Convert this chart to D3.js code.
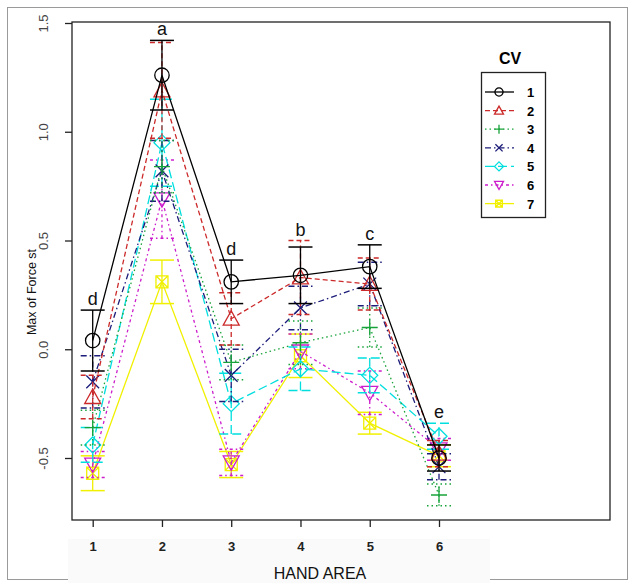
<!DOCTYPE html>
<html>
<head>
<meta charset="utf-8">
<script src="https://cdn.jsdelivr.net/npm/d3@7"></script>
<style>
  body { margin: 0; background: #fff; }
  svg { font-family: Arial, "Liberation Sans", sans-serif; }
</style>
</head>
<body>
<svg id="chart" width="634" height="585"></svg>
<script>
const areas = [1, 2, 3, 4, 5, 6];
const cvNames = ["1", "2", "3", "4", "5", "6", "7"];
const yTicks = [-0.5, 0.0, 0.5, 1.0, 1.5];

// means per CV, one value per hand area
const cv1 = [0.04, 1.26, 0.31, 0.34, 0.38, -0.50];
const cv2 = [-0.22, 1.19, 0.14, 0.33, 0.30, -0.48];
const cv3 = [-0.36, 0.84, -0.06, 0.03, 0.10, -0.67];
const cv4 = [-0.15, 0.82, -0.12, 0.19, 0.30, -0.54];
const cv5 = [-0.44, 0.95, -0.25, -0.09, -0.12, -0.40];
const cv6 = [-0.53, 0.69, -0.52, -0.01, -0.20, -0.46];
const cv7 = [-0.57, 0.31, -0.53, -0.03, -0.34, -0.49];

// half-length of the error bars
const err1 = [0.14, 0.16, 0.10, 0.13, 0.10, 0.06];
const err2 = [0.10, 0.22, 0.12, 0.17, 0.12, 0.06];
const err3 = [0.08, 0.12, 0.08, 0.10, 0.09, 0.05];
const err4 = [0.12, 0.14, 0.12, 0.10, 0.10, 0.06];
const err5 = [0.08, 0.20, 0.14, 0.10, 0.08, 0.06];
const err6 = [0.06, 0.18, 0.06, 0.08, 0.10, 0.05];
const err7 = [0.08, 0.10, 0.06, 0.10, 0.05, 0.05];

// group letters above the top bars
const letters = ["d", "a", "d", "b", "c", "e"];

const means = [cv1, cv2, cv3, cv4, cv5, cv6, cv7];
const errs = [err1, err2, err3, err4, err5, err6, err7];

const colors = ["#000000", "#cc2a2a", "#17a33a", "#1c1c7a", "#00dede", "#cc1ccc", "#f0f000"];
const dashes = [null, "5,3", "1.5,3", "6,3,1.5,3", "9,4", "3,3,1.5,3", null];
const shapes = ["circle", "triangle", "plus", "cross", "diamond", "down", "square"];

const svg = d3.select("#chart");

const margin = { top: 22, right: 24, bottom: 65, left: 72 },
  width = 634 - margin.left - margin.right,
  height = 585 - margin.top - margin.bottom;

// outer frame and the pale band under the x axis
svg.append("rect").attr("x", 7.5).attr("y", 7.5).attr("width", 620).attr("height", 572)
  .attr("fill", "none").attr("stroke", "#9a9a9a").attr("stroke-width", 1);
svg.append("rect").attr("x", 68).attr("y", 539).attr("width", 422).attr("height", 44)
  .attr("fill", "#fafafa");

const x = d3.scaleLinear().domain([1, 6]).range([20.7, 367]);
const y = d3.scaleLinear().domain([-0.5, 1.5]).range([436, 1]);

const g = svg.append("g").attr("transform", `translate(${margin.left},${margin.top})`);

g.append("rect").attr("width", width).attr("height", height)
  .attr("fill", "none").attr("stroke", "#222").attr("stroke-width", 1.3);

const xAxis = g.append("g").attr("transform", `translate(0,${height})`)
  .call(d3.axisBottom(x).tickValues(areas).tickSize(7).tickPadding(15).tickFormat(d3.format("d")));
xAxis.select(".domain").remove();
xAxis.selectAll("line").attr("stroke", "#222").attr("stroke-width", 1.3);
xAxis.selectAll("text").attr("font-size", 13).attr("font-weight", "bold").attr("fill", "#222")
  .attr("font-family", "Arial, sans-serif");

const yAxis = g.append("g")
  .call(d3.axisLeft(y).tickValues(yTicks).tickSize(7).tickFormat(d => d.toFixed(1)));
yAxis.select(".domain").remove();
yAxis.selectAll("line").attr("stroke", "#222").attr("stroke-width", 1.3);
yAxis.selectAll("text")
  .attr("font-size", 13).attr("fill", "#444").attr("font-family", "Arial, sans-serif")
  .attr("text-anchor", "middle").attr("dy", null).attr("x", null)
  .attr("transform", "translate(-24,0) rotate(-90)");

svg.append("text").attr("transform", "translate(36,292) rotate(-90)")
  .attr("text-anchor", "middle").attr("font-size", 12.5).attr("fill", "#111")
  .text("Max of Force st");
svg.append("text").attr("x", 320).attr("y", 579).attr("text-anchor", "middle")
  .attr("font-size", 16).attr("fill", "#111").text("HAND AREA");

function marker(sel, shape, color, s) {
  const st = { fill: "none", stroke: color, "stroke-width": 1.3 };
  let el;
  if (shape === "circle") el = sel.append("circle").attr("r", s * 0.9);
  else if (shape === "triangle") el = sel.append("path").attr("d", `M0,${-s}L${s},${s * 0.8}L${-s},${s * 0.8}Z`);
  else if (shape === "down") el = sel.append("path").attr("d", `M0,${s}L${s},${-s * 0.8}L${-s},${-s * 0.8}Z`);
  else if (shape === "plus") el = sel.append("path").attr("d", `M${-s},0H${s}M0,${-s}V${s}`);
  else if (shape === "cross") el = sel.append("path").attr("d", `M${-s * 0.8},${-s * 0.8}L${s * 0.8},${s * 0.8}M${-s * 0.8},${s * 0.8}L${s * 0.8},${-s * 0.8}`);
  else if (shape === "diamond") el = sel.append("path").attr("d", `M0,${-s}L${s},0L0,${s}L${-s},0Z`);
  else el = sel.append("path").attr("d", `M${-s * 0.75},${-s * 0.75}H${s * 0.75}V${s * 0.75}H${-s * 0.75}ZM${-s * 0.75},${-s * 0.75}L${s * 0.75},${s * 0.75}M${-s * 0.75},${s * 0.75}L${s * 0.75},${-s * 0.75}`);
  Object.entries(st).forEach(([k, v]) => el.attr(k, v));
}

const line = d3.line().x((d, i) => x(areas[i])).y(d => y(d));

// draw from last CV to first so black ends on top
for (let k = means.length - 1; k >= 0; k--) {
  const s = g.append("g").attr("class", "cv" + cvNames[k]);
  const col = colors[k];
  s.append("path").datum(means[k]).attr("d", line)
    .attr("fill", "none").attr("stroke", col).attr("stroke-width", 1.3)
    .attr("stroke-dasharray", dashes[k]);
  const eb = s.selectAll(".eb").data(means[k]).enter().append("g")
    .attr("transform", (d, i) => `translate(${x(areas[i])},0)`);
  eb.append("line").attr("y1", (d, i) => y(d - errs[k][i])).attr("y2", (d, i) => y(d + errs[k][i]))
    .attr("stroke", col).attr("stroke-width", 1.3).attr("stroke-dasharray", dashes[k]);
  [-1, 1].forEach(sg => {
    eb.append("line").attr("x1", -12).attr("x2", 12)
      .attr("y1", (d, i) => y(d + sg * errs[k][i])).attr("y2", (d, i) => y(d + sg * errs[k][i]))
      .attr("stroke", col).attr("stroke-width", 1.5).attr("stroke-dasharray", dashes[k]);
  });
  eb.append("g").attr("transform", d => `translate(0,${y(d)})`)
    .each(function () { marker(d3.select(this), shapes[k], col, 8); });
}

// letters above the highest bar of each area
g.selectAll(".letter").data(letters).enter().append("text")
  .attr("x", (d, i) => x(areas[i]))
  .attr("y", (d, i) => y(d3.max(means, (m, k) => m[i] + errs[k][i])) - 5)
  .attr("text-anchor", "middle").attr("font-size", 18).attr("fill", "#111").text(d => d);

// legend
const lg = svg.append("g");
lg.append("text").attr("x", 510).attr("y", 64).attr("text-anchor", "middle")
  .attr("font-size", 16).attr("font-weight", "bold").text("CV");
lg.append("rect").attr("x", 481.5).attr("y", 72.5).attr("width", 64).attr("height", 145)
  .attr("fill", "#fff").attr("stroke", "#222").attr("stroke-width", 1.3);
cvNames.forEach((n, k) => {
  const yy = 92 + k * 18.6;
  lg.append("line").attr("x1", 485).attr("x2", 514).attr("y1", yy).attr("y2", yy)
    .attr("stroke", colors[k]).attr("stroke-width", 1.3).attr("stroke-dasharray", dashes[k]);
  const m = lg.append("g").attr("transform", `translate(499,${yy})`);
  marker(m, shapes[k], colors[k], 4.5);
  lg.append("text").attr("x", 527).attr("y", yy + 5).attr("font-size", 13)
    .attr("font-weight", "bold").text(n);
});
</script>
</body>
</html>
